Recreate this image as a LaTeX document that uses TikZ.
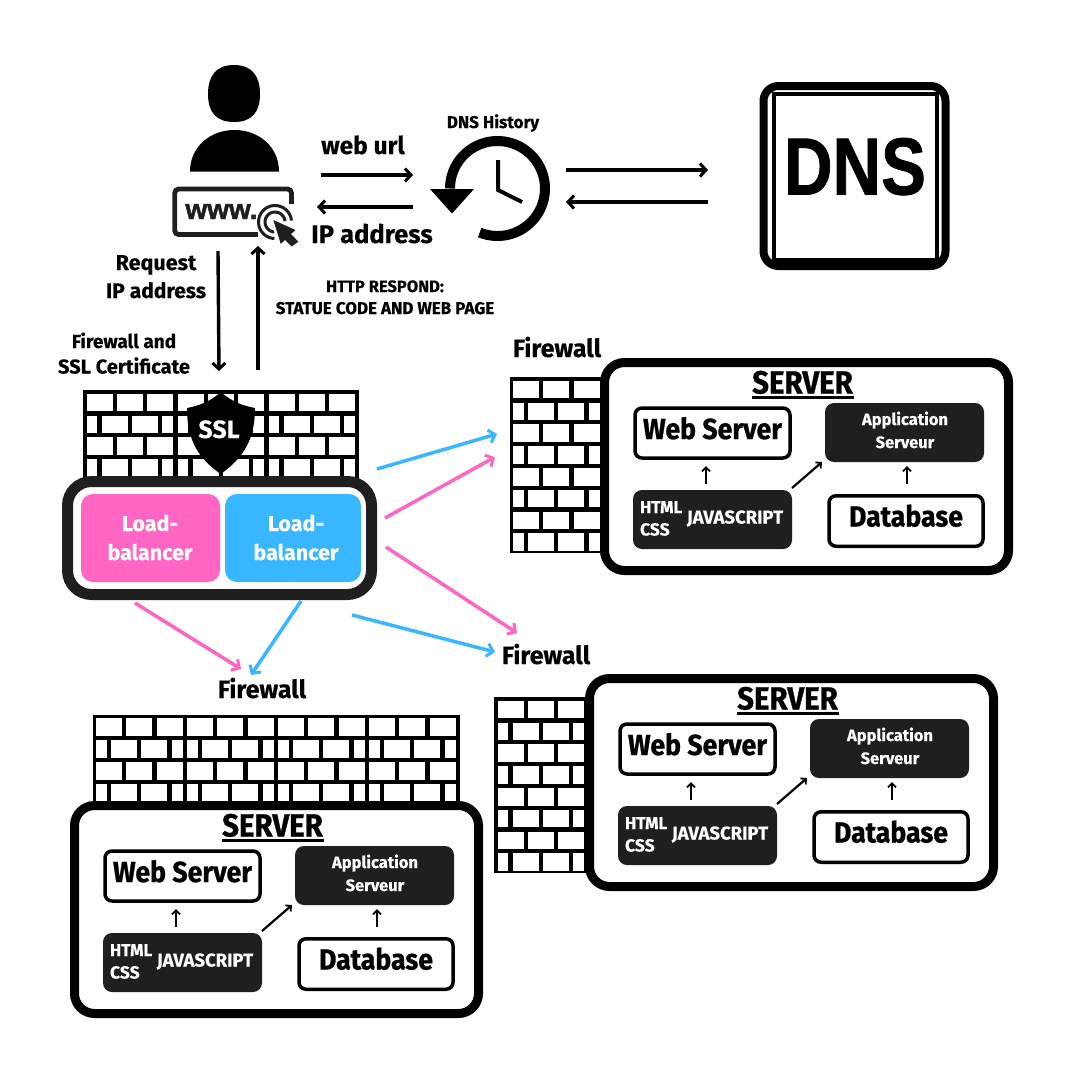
\documentclass[tikz,border=0pt]{standalone}
\usepackage{fontspec}
\setmainfont{Fira Sans}[BoldFeatures={FakeBold=0.35}]
\newfontfamily\bigf{Fira Sans}[BoldFeatures={FakeBold=0.9,FakeStretch=0.92}]
\newfontfamily\dnsfont{Liberation Sans}[BoldFeatures={FakeBold=0.9,FakeStretch=0.83}]
\newfontfamily\wwwfont{Liberation Sans}[BoldFeatures={FakeBold=1.6,FakeStretch=1.0}]
\usetikzlibrary{arrows.meta}
\definecolor{ink}{HTML}{1F1F1F}
\definecolor{pinkc}{HTML}{FF66C4}
\definecolor{bluec}{HTML}{38B6FF}
\tikzset{
  lbl/.style={anchor=base,inner sep=0pt,outer sep=0pt,align=center},
  panel/.style={rounded corners=#1,inner sep=0pt,outer sep=0pt},
  whitebox/.style={panel=7pt,draw=black,fill=white,line width=3.5pt,minimum width=155pt,minimum height=50pt},
  darkbox/.style={panel=9pt,fill=ink,minimum width=159pt,minimum height=59pt},
  bigarrow/.style={line width=3.4pt,-{Straight Barb[length=6pt,width=13pt,line width=3pt]}},
  smallarrow/.style={line width=2.2pt,-{Straight Barb[length=4pt,width=8pt,line width=1.8pt]}},
  pinkarrow/.style={draw=pinkc,line width=3.5pt,-{Straight Barb[length=6pt,width=13pt,line width=3pt]}},
  bluearrow/.style={draw=bluec,line width=3.5pt,-{Straight Barb[length=6pt,width=13pt,line width=3pt]}},
}
% #1 text colour, #2 name, #3 position, #4 size, #5 text
\newcommand{\lbl}[5][black]{\node[lbl,text=#1,font=\fontsize{#4}{#4}\selectfont\bfseries] (#2) at (#3) {#5};}
\newcommand{\biglbl}[4]{\node[lbl,font=\bigf\fontsize{#3}{#3}\selectfont\bfseries] (#1) at (#2) {#4};}
% #1 x, #2 y, #3 tiles, #4 even rows, #5 odd rows, #6 height
\newcommand{\brickwall}[6]{
  \fill[black] (#1,#2) rectangle ({#1+#3*91+3},{#2+#6});
  \pgfmathtruncatemacro{\lasttile}{#3-1}
  \foreach \t in {0,...,\lasttile}{
    \foreach \r in {#4}{
      \foreach \k in {0,1,2}{
        \fill[white] ({#1+\t*91+3.5+\k*30.4},{#2+3.8+\r*21.8}) rectangle +(26,17.6);
      }
    }
    \foreach \r in {#5}{
      \fill[white] ({#1+\t*91+3.5},{#2+3.8+\r*21.8}) rectangle +(10.8,17.6);
      \fill[white] ({#1+\t*91+18.5},{#2+3.8+\r*21.8}) rectangle +(26,17.6);
      \fill[white] ({#1+\t*91+48.9},{#2+3.8+\r*21.8}) rectangle +(26,17.6);
      \fill[white] ({#1+\t*91+79.2},{#2+3.8+\r*21.8}) rectangle +(10.8,17.6);
    }
  }
}
% #1 prefix, #2 dx, #3 dy   (drawn at the position of the upper-right server)
\newcommand{\serverblock}[3]{
\begin{scope}[shift={(#2,#3)}]
  \node[panel=20pt,draw=black,fill=white,line width=9pt,minimum width=404pt,minimum height=208pt] (#1box) at (806.5,466.5) {};
  \biglbl{#1title}{802.5,393.5}{32}{SERVER}
  \draw[line width=2.4pt] (752,397.3) -- (854,397.3);
  \node[whitebox] (#1web) at (712.5,433) {};
  \biglbl{#1webt}{712.5,439}{29}{Web Server}
  \node[darkbox] (#1app) at (904.5,432.5) {};
  \lbl[white]{#1appa}{905,425}{16.5}{Application}
  \lbl[white]{#1apps}{905,448}{16.5}{Serveur}
  \node[darkbox] (#1html) at (712.5,519.5) {};
  \node[lbl,anchor=base west,text=white,font=\fontsize{17}{17}\selectfont\bfseries] (#1htmlt) at (640,513) {HTML};
  \node[lbl,anchor=base west,text=white,font=\fontsize{17.5}{17.5}\selectfont\bfseries] (#1csst) at (640,535.5) {CSS};
  \lbl[white]{#1jst}{735,523.5}{18.5}{JAVASCRIPT}
  \node[whitebox,minimum width=154pt,minimum height=50.5pt] (#1db) at (906,521) {};
  \biglbl{#1dbt}{906,526.5}{29}{Database}
  \coordinate (#1a1) at (706,484);
  \coordinate (#1a2) at (706,466);
  \coordinate (#1b1) at (907,484);
  \coordinate (#1b2) at (907,466);
  \coordinate (#1c1) at (792,488);
  \coordinate (#1c2) at (822,462);
  \draw[smallarrow] (#1a1) -- (#1a2);
  \draw[smallarrow] (#1b1) -- (#1b2);
  \draw[smallarrow] (#1c1) -- (#1c2);
\end{scope}
}
\begin{document}
\begin{tikzpicture}[x=1pt,y=-1pt]
\useasboundingbox (0,0) rectangle (1080,1080);
\fill[white] (0,0) rectangle (1080,1080);

% person
\fill[black] (234,65) .. controls (252,65) and (260,76) .. (260,94)
  .. controls (260,112) and (252,122) .. (234,122)
  .. controls (216,122) and (208,112) .. (208,94)
  .. controls (208,76) and (216,65) .. (234,65) -- cycle;
\fill[black] (190,171.5) .. controls (190,147) and (210,130) .. (234.5,130)
  .. controls (259,130) and (279,147) .. (279,171.5) -- cycle;

% address bar
\draw[ink,line width=4.8pt,rounded corners=4pt] (291.5,213) -- (291.5,189) -- (174.7,189) -- (174.7,234.5) -- (258,234.5);
\node[lbl,font=\wwwfont\fontsize{28}{28}\selectfont\bfseries,text=ink] (www) at (221.5,219) {www.};
\fill[white] (258,204) rectangle (296,238);
\draw[ink,line width=3pt] plot[domain=5:268,samples=30,smooth] ({275+16.5*cos(\x)},{222-16.5*sin(\x)});
\draw[ink,line width=3pt] plot[domain=5:268,samples=30,smooth] ({275+10*cos(\x)},{222-10*sin(\x)});
\fill[white] (271,218) -- (300,229) -- (302,243) -- (292,250) -- (278,247) -- cycle;
\fill[ink] (273.3,220) -- (295.5,230) -- (291,234) -- (298.3,241.7) -- (291.7,246.5) -- (285,240) -- (280.7,243.8) -- cycle;

% clock
\draw[black,line width=10pt] plot[domain=-112:180,samples=70,smooth] ({497.5+47.5*cos(\x)},{188.5-47.5*sin(\x)});
\fill[black] (430,189) -- (474,189) -- (452,213.5) -- cycle;
\draw[black,line width=4pt] (498,160) -- (498,190) -- (522,202);

% DNS
\node[panel=15pt,draw=black,fill=white,line width=8pt,minimum width=182pt,minimum height=180pt] (dnsbox) at (854.5,176) {};
\node[inner sep=0pt,outer sep=0pt,draw=black,line width=3.5pt,minimum width=163pt,minimum height=166pt] (dnsinner) at (855.5,177) {};
\node[lbl,font=\dnsfont\fontsize{81}{81}\selectfont\bfseries] (dnst) at (855,194.5) {DNS};

% top arrows
\coordinate (u1) at (321,175); \coordinate (u2) at (413,175);
\coordinate (i1) at (413,207); \coordinate (i2) at (317,207);
\coordinate (d1) at (566,170); \coordinate (d2) at (708,170);
\coordinate (e1) at (708,202); \coordinate (e2) at (566,202);
\coordinate (r1) at (218,251); \coordinate (r2) at (219,371);
\coordinate (h1) at (258,370); \coordinate (h2) at (258,246);
\draw[bigarrow] (u1) -- (u2);
\draw[bigarrow] (i1) -- (i2);
\draw[bigarrow] (d1) -- (d2);
\draw[bigarrow] (e1) -- (e2);
\draw[bigarrow] (r1) -- (r2);
\draw[bigarrow] (h1) -- (h2);

\lbl{weburl}{363,154}{24.5}{web url}
\lbl{ipaddr}{372,243}{25.5}{IP address}
\lbl{dnshist}{493,128}{17}{DNS History}
\lbl{req}{156,270}{21.5}{Request}
\lbl{reqip}{156,298}{21}{IP address}
\lbl{http}{385,292}{16.5}{HTTP RESPOND:}
\lbl{statue}{385,314}{17}{STATUE CODE AND WEB PAGE}
\lbl{fwssl}{124,348}{19}{Firewall and}
\lbl{sslcert}{124,373.5}{20}{SSL Certificate}

% first wall, shield, load balancers
\brickwall{83}{390}{3}{0,2}{1,3}{88}
\fill[black] (220.7,392) .. controls (232,402) and (244,406) .. (255,408)
  .. controls (255,440) and (243,458) .. (220.7,474)
  .. controls (198,458) and (187,440) .. (187,408)
  .. controls (198,406) and (210,402) .. (220.7,392) -- cycle;
\lbl[white]{ssl}{219,438}{25}{SSL}
\node[panel=24pt,draw=ink,fill=white,line width=11pt,minimum width=304pt,minimum height=113pt] (lbbox) at (219.5,538) {};
\node[panel=12pt,fill=pinkc,minimum width=139pt,minimum height=88pt] (lbpink) at (150.5,538) {};
\node[panel=12pt,fill=bluec,minimum width=136pt,minimum height=88pt] (lbblue) at (293,538) {};
\lbl[white]{lp1}{150,531}{21.5}{Load-}
\lbl[white]{lp2}{150,560}{21.5}{balancer}
\lbl[white]{lb1}{296,531}{21.5}{Load-}
\lbl[white]{lb2}{296,560}{21.5}{balancer}

% right walls and servers
\brickwall{509.5}{377}{1}{0,2,4,6}{1,3,5,7}{176}
\serverblock{sa}{0}{0}
\brickwall{494}{697}{1}{0,2,4,6}{1,3,5,7}{176}
\serverblock{sb}{-15}{316}
\brickwall{92.5}{714.5}{4}{0,2}{1,3}{90}
\serverblock{sc}{-530}{443}

\lbl{fw1}{557,357}{25}{Firewall}
\lbl{fw2}{546,664}{25}{Firewall}
\lbl{fw3}{262,698}{25}{Firewall}

% coloured arrows
\coordinate (c1a) at (377,469); \coordinate (c1b) at (497,434);
\coordinate (c2a) at (385,518); \coordinate (c2b) at (495,457);
\coordinate (c3a) at (386,547); \coordinate (c3b) at (517,633);
\coordinate (c4a) at (352,615); \coordinate (c4b) at (495,652);
\coordinate (c5a) at (135,603); \coordinate (c5b) at (241,669);
\coordinate (c6a) at (301,601); \coordinate (c6b) at (251,675);
\draw[bluearrow] (c1a) -- (c1b);
\draw[pinkarrow] (c2a) -- (c2b);
\draw[pinkarrow] (c3a) -- (c3b);
\draw[bluearrow] (c4a) -- (c4b);
\draw[pinkarrow] (c5a) -- (c5b);
\draw[bluearrow] (c6a) -- (c6b);
\end{tikzpicture}
\end{document}
